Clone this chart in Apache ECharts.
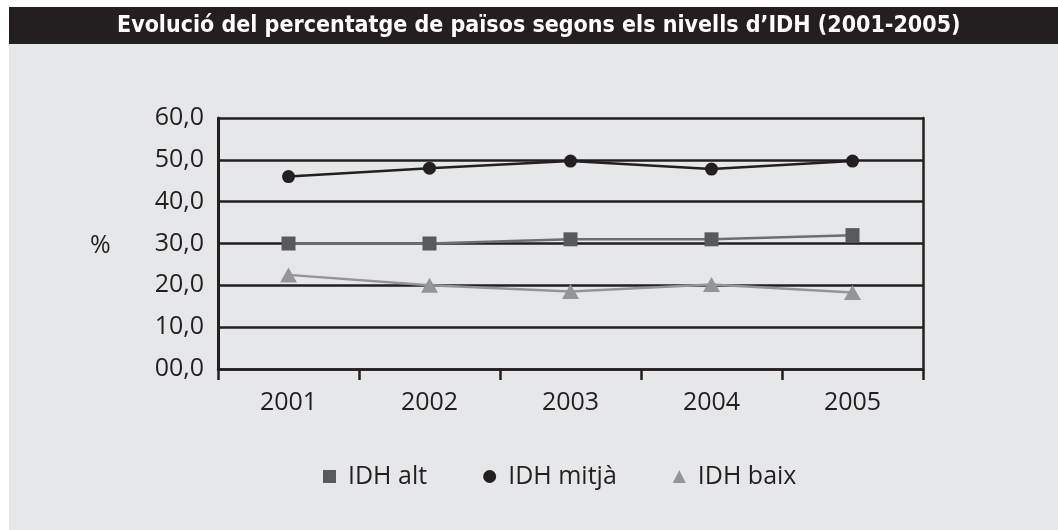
<!DOCTYPE html>
<html>
<head>
<meta charset="utf-8">
<script src="https://cdn.jsdelivr.net/npm/echarts@6/dist/echarts.min.js"></script>
<style>
  html, body { margin: 0; padding: 0; background: #fff; }
  #chart { width: 1058px; height: 530px; }
</style>
</head>
<body>
<div id="chart"></div>
<script>
// values
const years = ["2001", "2002", "2003", "2004", "2005"];
const idhAlt = [30.0, 30.0, 31.0, 31.0, 32.0];
const idhMitja = [46.0, 48.0, 49.7, 47.8, 49.7];
const idhBaix = [22.5, 20.0, 18.5, 20.2, 18.3];
const seriesNames = ["IDH alt", "IDH mitjà", "IDH baix"];

const ink = "#231f20";
const font = "Open Sans";

const chart = echarts.init(document.getElementById("chart"));

function yLabel(v) {
  if (v === 0) return "00,0";
  return v.toFixed(1).replace(".", ",");
}

chart.setOption({
  backgroundColor: "#ffffff",
  animation: false,
  title: {
    text: "Evolució del percentatge de països segons els nivells d\u2019IDH (2001-2005)",
    left: 112,
    top: 10,
    textStyle: {
      color: "#ffffff",
      fontFamily: "DejaVu Sans Condensed",
      fontWeight: "bold",
      fontSize: 23,
    },
  },
  graphic: [
    { type: "rect", z: -10, shape: { x: 9, y: 44, width: 1049, height: 486 }, style: { fill: "#e6e7e8" } },
    { type: "rect", z: -10, shape: { x: 9, y: 7, width: 1049, height: 37 }, style: { fill: ink } },
    {
      type: "text", left: 90, top: 233,
      style: { text: "%", fill: ink, font: "25px 'Open Sans'" },
    },
  ],
  grid: { left: 218, right: 135, top: 118, bottom: 161 },
  legend: {
    bottom: 36,
    left: 318,
    itemGap: 56,
    itemWidth: 13,
    itemHeight: 13,
    textStyle: { color: ink, fontFamily: font, fontSize: 25, padding: [0, 0, 0, 7] },
    data: [
      { name: seriesNames[0], icon: "rect", itemStyle: { color: "#58595b" } },
      { name: seriesNames[1], icon: "circle", itemStyle: { color: ink } },
      { name: seriesNames[2], icon: "triangle", itemStyle: { color: "#939598" } },
    ],
  },
  xAxis: {
    type: "category",
    data: years,
    boundaryGap: true,
    axisLine: { lineStyle: { color: ink, width: 2.5 } },
    axisTick: { show: true, length: 11, lineStyle: { color: ink, width: 2.5 } },
    axisLabel: { color: ink, fontFamily: font, fontSize: 25, margin: 21 },
  },
  yAxis: [
    {
      type: "value",
      min: 0,
      max: 60,
      interval: 10,
      axisLine: { show: true, lineStyle: { color: ink, width: 3 } },
      axisTick: { show: false },
      axisLabel: { color: ink, fontFamily: font, fontSize: 25, margin: 14, formatter: yLabel },
      splitLine: { lineStyle: { color: ink, width: 2.5 } },
    },
    {
      type: "value",
      position: "right",
      min: 0,
      max: 60,
      interval: 10,
      axisLine: { show: true, lineStyle: { color: ink, width: 2.5 } },
      axisTick: { show: false },
      axisLabel: { show: false },
      splitLine: { show: false },
    },
  ],
  series: [
    {
      name: seriesNames[0],
      type: "line",
      data: idhAlt,
      symbol: "rect",
      symbolSize: 14,
      lineStyle: { color: "#6d6e71", width: 2.5 },
      itemStyle: { color: "#58595b" },
      z: 3,
    },
    {
      name: seriesNames[1],
      type: "line",
      data: idhMitja,
      symbol: "circle",
      symbolSize: 13,
      lineStyle: { color: ink, width: 2.5 },
      itemStyle: { color: ink },
      z: 3,
    },
    {
      name: seriesNames[2],
      type: "line",
      data: idhBaix,
      symbol: "triangle",
      symbolSize: [17, 15],
      lineStyle: { color: "#939598", width: 2.5 },
      itemStyle: { color: "#939598" },
      z: 3,
    },
  ],
});
</script>
</body>
</html>
